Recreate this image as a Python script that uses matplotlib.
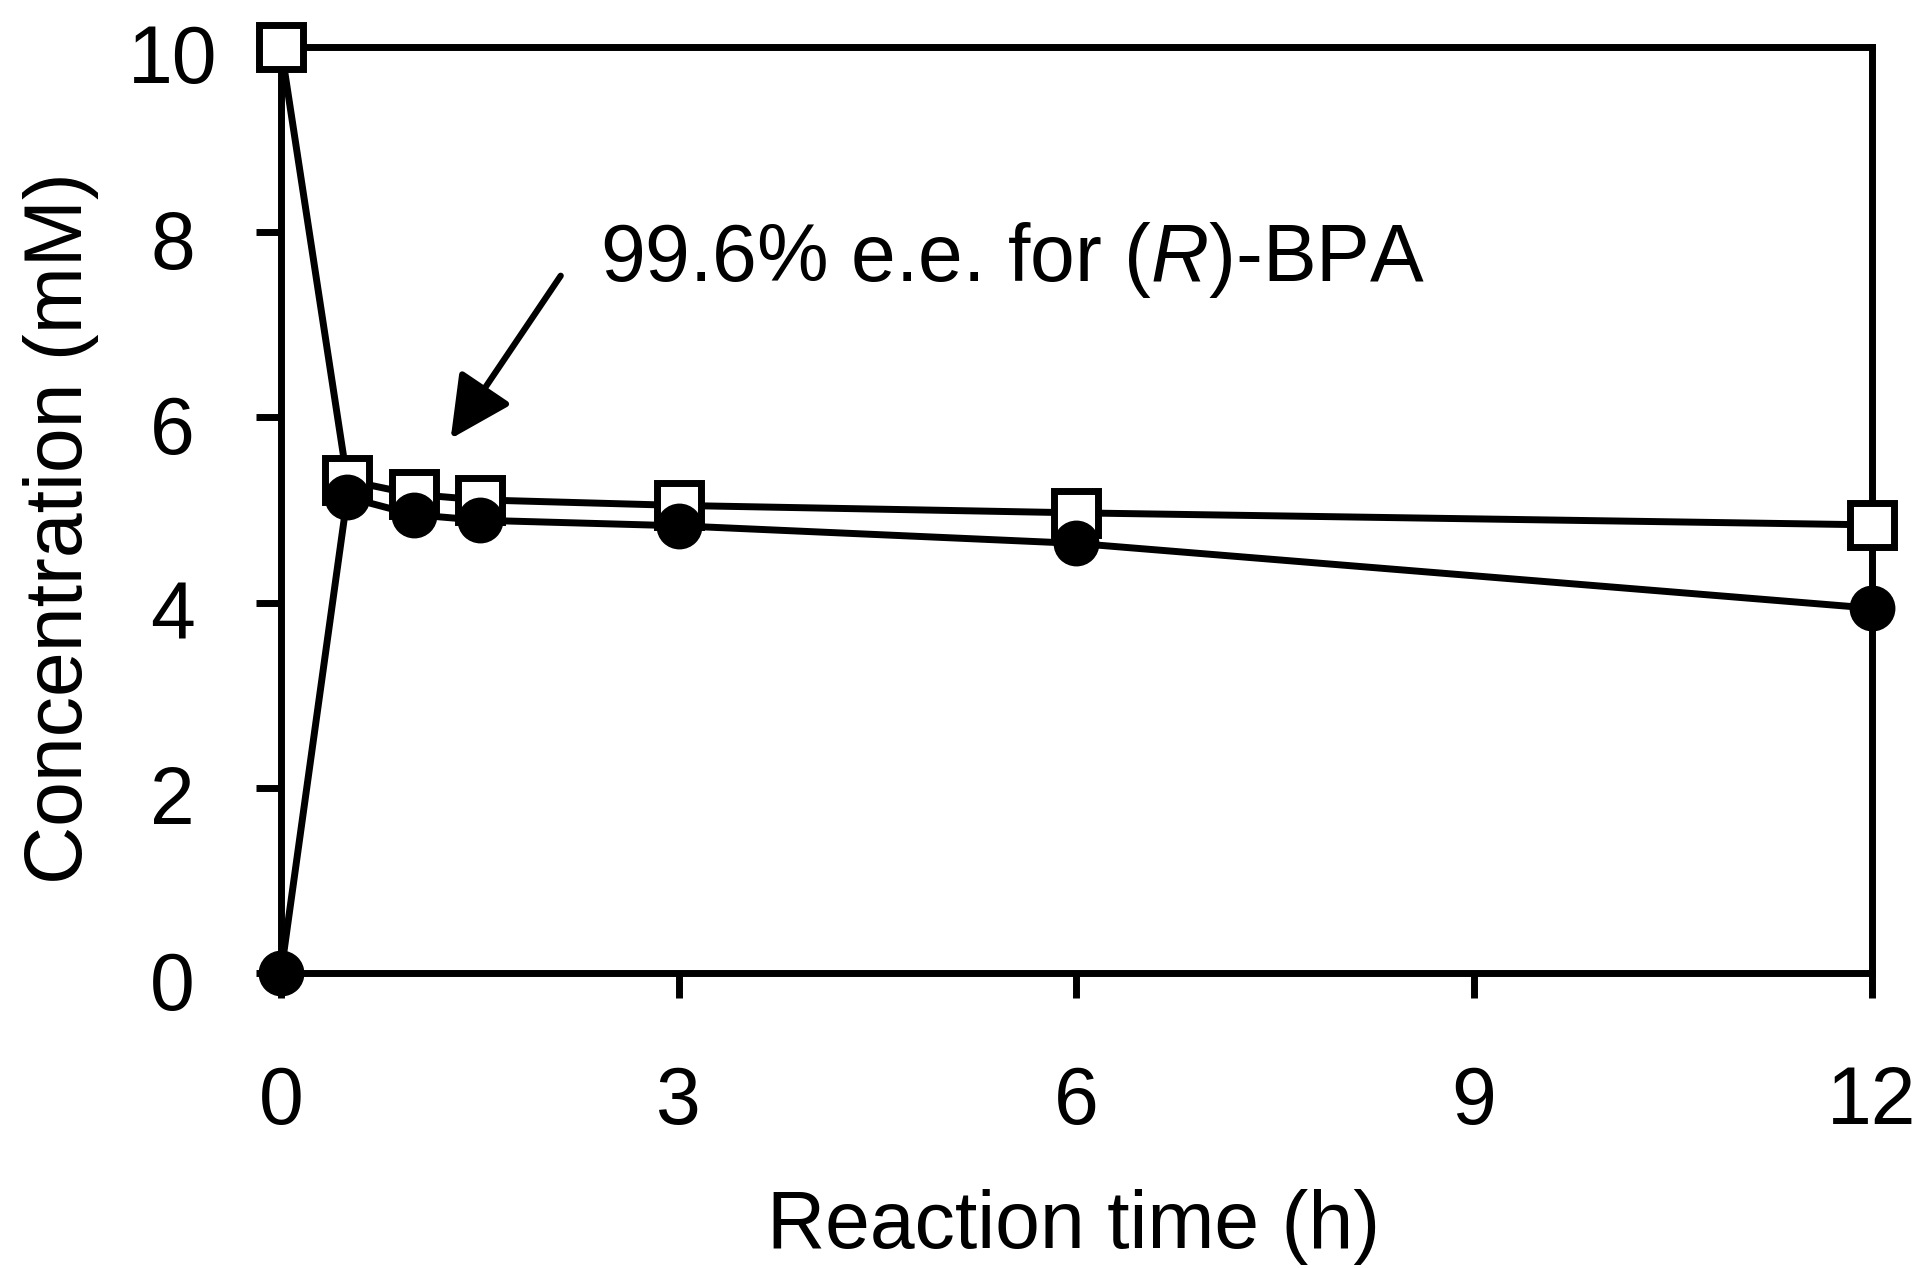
import numpy as np
import matplotlib
matplotlib.use("Agg")
import matplotlib.pyplot as plt
from matplotlib.transforms import ScaledTranslation

plt.rcParams['font.family'] = ['Liberation Sans', 'DejaVu Sans']
plt.rcParams['mathtext.fontset'] = 'custom'
plt.rcParams['mathtext.rm'] = 'Liberation Sans'
plt.rcParams['mathtext.it'] = 'Liberation Sans:italic'

# Reaction time (h)
time_h = [0, 0.5, 1, 1.5, 3, 6, 12]
# open squares / filled circles (mM)
conc_squares = [10.0, 5.32, 5.17, 5.11, 5.05, 4.97, 4.84]
conc_circles = [0.0, 5.14, 4.95, 4.89, 4.83, 4.64, 3.94]

x_ticks = [0, 3, 6, 9, 12]
y_ticks = [0, 2, 4, 6, 8, 10]

note_text = "99.6% e.e. for ($\\mathit{R}$)-BPA"

fig = plt.figure(figsize=(19.31, 12.68), dpi=100)
ax = fig.add_axes([0.1455, 0.2326, 0.8239, 0.7303])

ax.plot(time_h, conc_squares, color='k', lw=5, marker='s', ms=31,
        mfc='white', mec='k', mew=5, clip_on=False, zorder=3)
ax.plot(time_h, conc_circles, color='k', lw=5, marker='o', ms=32,
        mfc='k', mec='k', mew=1, clip_on=False, zorder=4)

ax.set_xlim(0, 12)
ax.set_ylim(0, 10)
ax.set_xticks(x_ticks, [str(t) for t in x_ticks])
ax.set_yticks(y_ticks, [str(t) for t in y_ticks])

for sp in ax.spines.values():
    sp.set_linewidth(5)
ax.tick_params(direction='out', length=18, width=5, labelsize=58)
ax.tick_params(axis='x', pad=48)
ax.tick_params(axis='y', pad=60)
shift = ScaledTranslation(0, -5 / 72, fig.dpi_scale_trans)
for lab in ax.get_yticklabels():
    lab.set_ha('center')
    lab.set_transform(lab.get_transform() + shift)

# annotation
ax.annotate('', xy=(1.28, 5.77), xytext=(2.11, 7.53),
            arrowprops=dict(arrowstyle='-|>,head_length=38,head_width=19',
                            mutation_scale=1, lw=4.5, color='k',
                            shrinkA=0, shrinkB=0))
ax.text(2.41, 7.47, note_text, fontsize=58, ha='left', va='baseline')

fig.text(1074 / 1931, (1268 - 1248) / 1268, "Reaction time (h)", fontsize=58,
         ha='center', va='baseline')
fig.text(82 / 1931, (1268 - 528) / 1268, "Concentration (mM)", fontsize=58,
         rotation=90, rotation_mode='anchor', ha='center', va='baseline')

fig.savefig('out.png', dpi=100)
